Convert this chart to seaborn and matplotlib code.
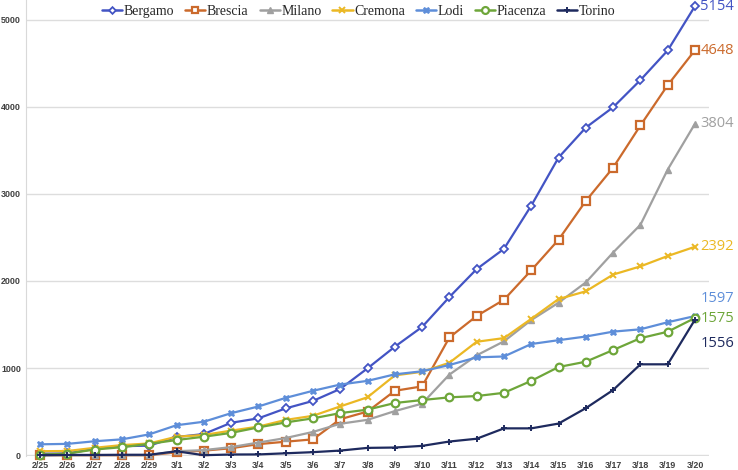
import numpy as np
import pandas as pd
import seaborn as sns
import matplotlib.pyplot as plt
from matplotlib.lines import Line2D

dates = ["2/25", "2/26", "2/27", "2/28", "2/29", "3/1", "3/2", "3/3", "3/4", "3/5",
         "3/6", "3/7", "3/8", "3/9", "3/10", "3/11", "3/12", "3/13", "3/14", "3/15",
         "3/16", "3/17", "3/18", "3/19", "3/20"]

bergamo = [18, 20, 72, 103, 110, 209, 243, 372, 423, 537, 623, 761, 997, 1245, 1472,
           1815, 2136, 2368, 2864, 3416, 3760, 3993, 4305, 4645, 5154]
brescia = [0, 0, 0, 0, 0, 33, 52, 80, 127, 155, 182, 413, 501, 739, 790,
           1351, 1598, 1784, 2122, 2473, 2918, 3300, 3784, 4247, 4648]
milano = [0, 0, 0, 0, 0, 46, 58, 93, 145, 197, 267, 361, 406, 506, 592,
          925, 1146, 1307, 1551, 1750, 1983, 2326, 2644, 3278, 3804]
cremona = [46, 48, 85, 116, 135, 212, 232, 282, 328, 405, 452, 560, 665, 916, 957,
           1061, 1302, 1344, 1565, 1792, 1881, 2073, 2167, 2286, 2392]
lodi = [125, 130, 160, 182, 239, 344, 384, 482, 559, 658, 739, 811, 853, 928, 963,
        1035, 1123, 1133, 1276, 1320, 1362, 1418, 1445, 1526, 1597]
piacenza = [6, 18, 65, 92, 130, 174, 212, 256, 319, 376, 423, 483, 523, 599, 633,
            664, 679, 716, 853, 1012, 1073, 1207, 1343, 1417, 1575]
torino = [0, 3, 3, 5, 5, 45, 0, 8, 9, 22, 35, 53, 84, 88, 107,
          157, 189, 308, 308, 363, 540, 748, 1043, 1043, 1556]

names = ["Bergamo", "Brescia", "Milano", "Cremona", "Lodi", "Piacenza", "Torino"]
series = [bergamo, brescia, milano, cremona, lodi, piacenza, torino]
colors = ["#4354C4", "#CB6A2C", "#A0A0A0", "#EBB824", "#5E8ED9", "#6EA63A", "#1E2A5E"]
# label y position (in data units) for the end-value texts
label_y = [5154, 4648, 3804, 2392, 1800, 1573, 1286]

styles = {
    "Bergamo": dict(marker="D", ms=3.8, mfc="white", mew=1.3),
    "Brescia": dict(marker="s", ms=5.2, mfc="white", mew=1.6),
    "Milano": dict(marker="^", ms=5, mfc="#A0A0A0", mew=1),
    "Cremona": dict(marker="x", ms=4.5, mew=1.4),
    "Lodi": dict(marker="X", ms=5, mew=0.5),
    "Piacenza": dict(marker="o", ms=5.5, mfc="white", mew=1.6),
    "Torino": dict(marker="+", ms=4.5, mew=1.4),
}

df = pd.DataFrame({n: s for n, s in zip(names, series)})
df["x"] = np.arange(len(dates))

sns.set_style("white")
fig = plt.figure(figsize=(7.38, 4.70), dpi=100)
ax = fig.add_axes([0.0358, 0.030, 0.9244, 0.970])

handles = []
for name, color in zip(names, colors):
    st = styles[name]
    sns.lineplot(data=df, x="x", y=name, ax=ax, color=color, lw=1.6, marker=st["marker"],
                 markersize=st["ms"], markerfacecolor=st.get("mfc", color),
                 markeredgecolor=color, markeredgewidth=st["mew"], clip_on=False)
    handles.append(Line2D([], [], color=color, lw=1.8, marker=st["marker"],
                          markersize=st["ms"] * 0.9, markerfacecolor=st.get("mfc", color),
                          markeredgecolor=color, markeredgewidth=st["mew"]))

for s, name, color, ly in zip(series, names, colors, label_y):
    ax.text(len(dates) - 1 + 0.2, ly, str(s[-1]), color=color, fontsize=10.5,
            family="Open Sans", va="center", ha="left", clip_on=False)

ax.set_xlim(-0.5, len(dates) - 0.5)
ax.set_ylim(-8, 5224)
ax.set_xticks(np.arange(len(dates)), labels=dates)
ax.set_yticks([0, 1000, 2000, 3000, 4000, 5000])
ax.tick_params(axis="both", length=0, labelsize=6.4, labelcolor="#404040")
ax.tick_params(axis="x", pad=4)
ax.tick_params(axis="y", pad=4)
for lab in ax.get_xticklabels() + ax.get_yticklabels():
    lab.set_fontweight("bold")
    lab.set_family("Liberation Sans")
ax.set_xlabel("")
ax.set_ylabel("")
ax.yaxis.grid(True, color="#DDDDDD", lw=1)
ax.set_axisbelow(True)
for side in ["top", "right", "bottom"]:
    ax.spines[side].set_visible(False)
ax.spines["left"].set_color("#D9D9D9")

ax.legend(handles, names, loc="upper center", bbox_to_anchor=(0.486, 1.005),
          bbox_transform=fig.transFigure, ncol=7, frameon=False,
          prop=dict(family="Liberation Serif", size=10), handlelength=1.45,
          handletextpad=0.1, columnspacing=0.8, borderaxespad=0.1)

fig.savefig("out.png", dpi=100)
